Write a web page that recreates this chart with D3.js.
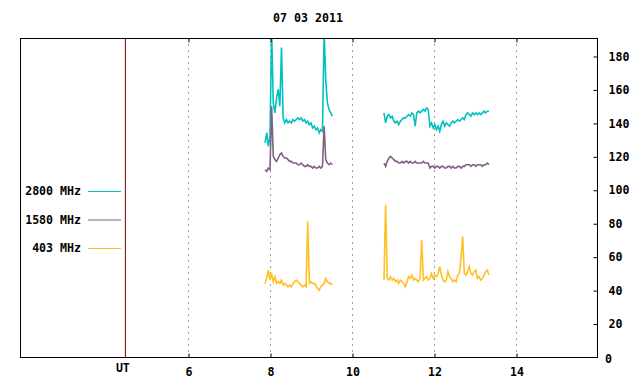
<!DOCTYPE html>
<html>
<head>
<meta charset="utf-8">
<script src="https://cdn.jsdelivr.net/npm/d3@7/dist/d3.min.js"></script>
<style>
html,body{margin:0;padding:0;background:#fff;}
svg{display:block;}
text{font-family:"DejaVu Sans Mono",monospace;font-weight:bold;font-size:11.6px;fill:#000;}
</style>
</head>
<body>
<script>
const title = "07 03 2011";
const seriesLabels = ["2800 MHz", "1580 MHz", "403 MHz"];
const seriesColors = ["#00c0c0", "#806080", "#ffc020"];
const xTicks = [6, 8, 10, 12, 14];
const yTicks = [0, 20, 40, 60, 80, 100, 120, 140, 160, 180];
const utMark = 4.46;

// sampling grid of each observing session (hours UT)
const session1Start = 7.88;
const session2Start = 10.78;
const sampleStep = 0.04;

const flux2800_s1 = [128,134,126,132,195,152,146,155,160,150,185,143,140,142,140,141,140,142,141,142,143,142,143,141,142,140,141,139,140,137,138,136,137,134,136,135,195,165,152,148,146,144];
const flux1580_s1 = [112,111,113,112,150,120,118,117,119,121,122,120,119,119,118,117,117,116,116,116,115,115,116,115,114,114,115,114,114,113,114,113,113,114,113,114,138,118,116,115,116,115];
const flux403_s1  = [44,47,52,46,50,45,48,44,45,44,46,43,44,43,42,43,42,44,45,46,45,44,43,42,43,42,81,44,45,44,44,43,41,40,42,43,44,47,45,44,44,43];

const flux2800_s2 = [146,140,144,145,143,144,141,140,141,139,141,142,143,143,144,145,144,146,145,138,146,147,146,147,148,147,149,148,138,140,137,139,136,138,135,139,141,138,140,139,138,140,141,140,141,142,141,142,143,142,145,146,145,144,146,145,146,145,146,145,146,147,146,147,147];
const flux1580_s2 = [116,114,117,119,120,119,118,117,117,116,116,117,116,117,117,116,117,116,116,117,116,116,116,116,117,116,116,116,113,114,114,113,114,114,113,114,114,113,113,114,114,113,114,113,113,114,114,113,114,114,115,115,115,114,115,115,114,115,115,115,114,115,115,116,115];
const flux403_s2  = [46,91,47,46,48,46,47,45,46,44,46,45,44,42,45,48,47,49,46,47,46,45,47,70,46,47,48,46,47,50,47,49,48,50,54,49,46,45,46,51,48,47,45,46,45,49,50,60,72,50,49,51,54,50,49,51,52,47,48,46,47,49,51,52,49];

const W = 640, H = 384;
const box = {left: 20, right: 597, top: 38, bottom: 357};

const x = d3.scaleLinear().domain([6, 14]).range([188, 516]);
const y = d3.scaleLinear().domain([0, 180]).range([357, 56]);

const svg = d3.select("body").append("svg").attr("width", W).attr("height", H);

svg.append("defs").append("clipPath").attr("id", "plotclip")
  .append("rect").attr("x", box.left).attr("y", box.top)
  .attr("width", box.right - box.left).attr("height", box.bottom - box.top);

// grid
svg.append("g").selectAll("line").data(xTicks).join("line")
  .attr("x1", d => x(d) + 0.5).attr("x2", d => x(d) + 0.5)
  .attr("y1", box.top).attr("y2", box.bottom)
  .attr("stroke", "#a0a0a0").attr("stroke-width", 1).attr("stroke-dasharray", "2,4");

// UT separator
svg.append("line").attr("x1", x(utMark) + 0.5).attr("x2", x(utMark) + 0.5)
  .attr("y1", box.top).attr("y2", box.bottom).attr("stroke", "#800000").attr("stroke-width", 1);

// series
function sessionPoints(start, vals) {
  return vals.map((v, i) => [start + i * sampleStep, v]);
}
const series = [
  [flux2800_s1, flux2800_s2],
  [flux1580_s1, flux1580_s2],
  [flux403_s1, flux403_s2]
];
const line = d3.line().x(d => x(d[0])).y(d => y(d[1]));
const plot = svg.append("g").attr("clip-path", "url(#plotclip)");
series.forEach((s, k) => {
  [sessionPoints(session1Start, s[0]), sessionPoints(session2Start, s[1])].forEach(pts => {
    plot.append("path").datum(pts).attr("d", line)
      .attr("fill", "none").attr("stroke", seriesColors[k]).attr("stroke-width", 1.6)
      .attr("stroke-linejoin", "miter");
  });
});

// border
svg.append("rect").attr("x", box.left + 0.5).attr("y", box.top + 0.5)
  .attr("width", box.right - box.left).attr("height", box.bottom - box.top)
  .attr("fill", "none").attr("stroke", "#000").attr("stroke-width", 1);

// bottom axis
const xAxis = svg.append("g").attr("transform", `translate(0.5,${box.bottom + 0.5})`)
  .call(d3.axisBottom(x).tickValues(xTicks).tickSizeInner(-4).tickSizeOuter(0).tickPadding(10));
xAxis.select(".domain").remove();
xAxis.selectAll("line").attr("stroke", "#000");
xAxis.selectAll("text").attr("font-family", null).attr("font-size", null);

// top axis ticks
const xTop = svg.append("g").attr("transform", `translate(0.5,${box.top + 0.5})`)
  .call(d3.axisTop(x).tickValues(xTicks).tickSizeInner(-4).tickSizeOuter(0).tickFormat(""));
xTop.select(".domain").remove();

// right axis
const yAxis = svg.append("g").attr("transform", `translate(${box.right + 0.5},0.5)`)
  .call(d3.axisRight(y).tickValues(yTicks.filter(d => d > 0)).tickSizeInner(-4).tickSizeOuter(0).tickPadding(11));
yAxis.select(".domain").remove();
yAxis.selectAll("text").attr("font-family", null).attr("font-size", null).attr("text-anchor", "start");
svg.append("text").attr("x", 605).attr("y", y(0) + 6).text("0");

// UT label
svg.append("text").attr("x", x(utMark) - 2).attr("y", 372).attr("text-anchor", "middle").text("UT");

// title
svg.append("text").attr("x", 308).attr("y", 22).attr("text-anchor", "middle").text(title);

// legend
const legendY = [191, 219.5, 248];
seriesLabels.forEach((lab, k) => {
  svg.append("text").attr("x", 81).attr("y", legendY[k] + 4).attr("text-anchor", "end").text(lab);
  svg.append("line").attr("x1", 88).attr("x2", 121)
    .attr("y1", legendY[k] + 0.5).attr("y2", legendY[k] + 0.5)
    .attr("stroke", seriesColors[k]).attr("stroke-width", 1);
});
</script>
</body>
</html>
